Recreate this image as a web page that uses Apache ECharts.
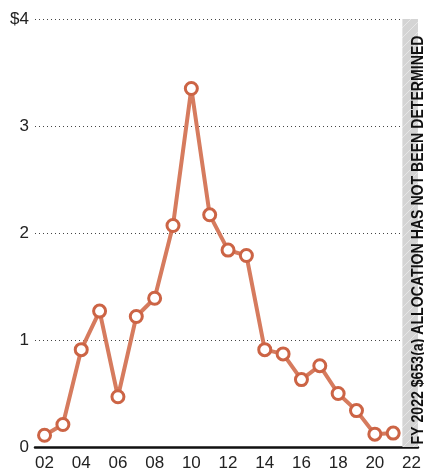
<!DOCTYPE html>
<html><head><meta charset="utf-8">
<script src="https://cdn.jsdelivr.net/npm/echarts@6/dist/echarts.min.js"></script>
<style>html,body{margin:0;padding:0;background:#fff}#c{width:424px;height:472px}</style>
</head><body><div id="c"></div>
<script>
const years = [2002,2003,2004,2005,2006,2007,2008,2009,2010,2011,2012,2013,2014,2015,2016,2017,2018,2019,2020,2021];
const values = [0.11,0.21,0.91,1.27,0.47,1.22,1.39,2.07,3.35,2.17,1.84,1.79,0.91,0.87,0.63,0.76,0.50,0.34,0.12,0.13];
const xTicks = [2002,2004,2006,2008,2010,2012,2014,2016,2018,2020,2022];
const yTicks = [0,1,2,3,4];
const bandStart = 2021.5;
const bandText = 'FY 2022 $653(a) ALLOCATION HAS NOT BEEN DETERMINED';

// hatch pattern for the shaded band
const pc = document.createElement('canvas');
pc.width = 10; pc.height = 10;
const pctx = pc.getContext('2d');
pctx.fillStyle = '#d4d4d4'; pctx.fillRect(0,0,10,10);
pctx.strokeStyle = '#ececec'; pctx.lineWidth = 0.8;
pctx.beginPath(); pctx.moveTo(0,10); pctx.lineTo(10,0); pctx.stroke();

const chart = echarts.init(document.getElementById('c'), null, {renderer:'canvas'});
const xMin = 2001.48, xMax = 2022.35;
chart.setOption({
  animation:false,
  grid:{left:35,right:0,top:19,bottom:25,containLabel:false},
  xAxis:{type:'value',min:xMin,max:xMax,
    axisLine:{show:true,onZero:false,lineStyle:{color:'#111',width:2.5}},
    axisTick:{show:false},splitLine:{show:false},
    axisLabel:{customValues:xTicks,formatter:v=>String(v).slice(2),color:'#222',fontSize:17,fontFamily:'Liberation Sans',margin:8}},
  yAxis:{type:'value',min:0,max:4,interval:1,
    axisLine:{show:false},axisTick:{show:false},
    splitLine:{show:true,lineStyle:{color:'#444',width:1,type:[1,3]}},
    axisLabel:{formatter:v=>v===4?'$4':String(v),color:'#222',fontSize:17,fontFamily:'Liberation Sans',margin:6}},
  series:[{type:'line',data:years.map((y,i)=>[y,values[i]]),
    lineStyle:{color:'#d67b5e',width:4},
    symbol:'circle',symbolSize:12,
    itemStyle:{color:'#fff',borderColor:'#cc6445',borderWidth:3},
    z:3,
    markArea:{silent:true,itemStyle:{color:{image:pc,repeat:'repeat'}},
      data:[[{xAxis:bandStart,yAxis:0},{xAxis:xMax,yAxis:4}]]}
  }]
});
const p0 = chart.convertToPixel({gridIndex:0},[xMax,0]);
const p4 = chart.convertToPixel({gridIndex:0},[xMax,4]);
chart.setOption({graphic:[{type:'text',x:p0[0]+9,y:(p0[1]+p4[1])/2+7,rotation:Math.PI/2,scaleX:0.83,z:10,
  style:{text:bandText,fill:'#111',font:'bold 17px "Liberation Sans Narrow", "Liberation Sans", sans-serif',align:'center',verticalAlign:'bottom'}}]});
</script></body></html>
